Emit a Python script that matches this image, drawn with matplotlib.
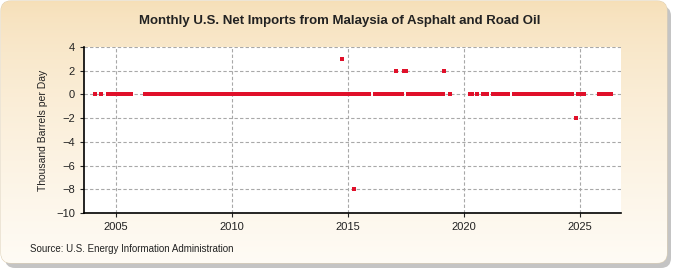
import numpy as np
import pandas as pd
import matplotlib
matplotlib.use("Agg")
import matplotlib.pyplot as plt
from matplotlib.patches import FancyBboxPatch

# ---- data (monthly, thousand barrels per day) ----
# periods where the reported value is 0 (start, end inclusive)
zero_spans = [
    ("2004-02", "2004-02"), ("2004-05", "2004-05"), ("2004-09", "2005-09"),
    ("2006-04", "2006-11"), ("2007-01", "2010-11"), ("2011-01", "2014-09"),
    ("2014-11", "2015-03"), ("2015-05", "2015-12"), ("2016-03", "2017-01"),
    ("2017-03", "2017-05"), ("2017-08", "2019-02"), ("2019-06", "2019-06"),
    ("2020-04", "2020-05"), ("2020-08", "2020-08"), ("2020-11", "2021-01"),
    ("2021-04", "2021-12"), ("2022-03", "2024-09"), ("2024-12", "2025-03"),
    ("2025-11", "2026-05"),
]
# months with a non-zero value
nz_months = ["2014-10", "2015-04", "2017-02", "2017-06", "2017-07", "2019-03", "2024-11"]
nz_values = [3, -8, 2, 2, 2, 2, -2]

x_ticks = [2005, 2010, 2015, 2020, 2025]
y_ticks = [-10, -8, -6, -4, -2, 0, 2, 4]


def dec_year(p):
    return p.year + (p.month - 1) / 12.0


dates, vals = [], []
for s, e in zero_spans:
    for p in pd.period_range(s, e, freq="M"):
        dates.append(dec_year(p))
        vals.append(0)
for m, v in zip(nz_months, nz_values):
    dates.append(dec_year(pd.Period(m, freq="M")))
    vals.append(v)

fig = plt.figure(figsize=(6.75, 2.75), dpi=100)
fig.patch.set_facecolor("white")

# ---- background panel with shadow and beige gradient ----
bg = fig.add_axes([0, 0, 1, 1], zorder=-10)
bg.set_xlim(0, 675)
bg.set_ylim(275, 0)
bg.axis("off")
shadow = FancyBboxPatch((5, 6), 666, 262, boxstyle="round,pad=0,rounding_size=10",
                        fc="#c4c4c4", ec="none", zorder=1)
bg.add_patch(shadow)
panel = FancyBboxPatch((1, 1), 666, 262, boxstyle="round,pad=0,rounding_size=10",
                       fc="#fbf1de", ec="#e0d2b6", lw=0.8, zorder=2)
bg.add_patch(panel)
grad = np.linspace(0, 1, 256).reshape(-1, 1)
top = np.array([0.965, 0.875, 0.72])
bot = np.array([0.998, 0.985, 0.96])
img = top + (bot - top) * grad[..., None] ** 0.7
im = bg.imshow(img, extent=(1, 667, 263, 1), aspect="auto", zorder=3)
im.set_clip_path(panel)

fig.text(0.503, 0.925, "Monthly U.S. Net Imports from Malaysia of Asphalt and Road Oil",
         ha="center", va="center", fontsize=9.5, fontweight="bold",
         family=["Liberation Sans", "DejaVu Sans"], color="#222222")
fig.text(0.045, 0.095, "Source: U.S. Energy Information Administration",
         ha="left", va="center", fontsize=7,
         family=["Liberation Sans Narrow", "Liberation Sans", "DejaVu Sans"], color="#222222")

# ---- plot ----
ax = fig.add_axes([84 / 675, 1 - 213 / 275, (621 - 84) / 675, (213 - 47) / 275])
ax.set_facecolor("white")
ax.scatter(dates, vals, marker="s", s=8, color="#e0102a", linewidths=0, zorder=3)

ax.set_xlim(2003.62, 2026.78)
ax.set_ylim(-10, 4)
ax.set_xticks(x_ticks)
ax.set_yticks(y_ticks)
ax.grid(True, color="#a8a8a8", linestyle=(0, (3, 2)), linewidth=0.8)
ax.set_axisbelow(True)
for s in ["top", "right"]:
    ax.spines[s].set_visible(False)
for s in ["left", "bottom"]:
    ax.spines[s].set_color("black")
    ax.spines[s].set_linewidth(1.2)
ax.tick_params(axis="both", length=3, width=0.8, labelsize=8, colors="#222222")
for lab in ax.get_xticklabels() + ax.get_yticklabels():
    lab.set_family(["Liberation Sans Narrow", "Liberation Sans", "DejaVu Sans"])
ax.set_ylabel("Thousand Barrels per Day", fontsize=7.5,
              family=["Liberation Sans", "DejaVu Sans"], color="#222222", labelpad=6)

fig.savefig("out.png", dpi=100)
